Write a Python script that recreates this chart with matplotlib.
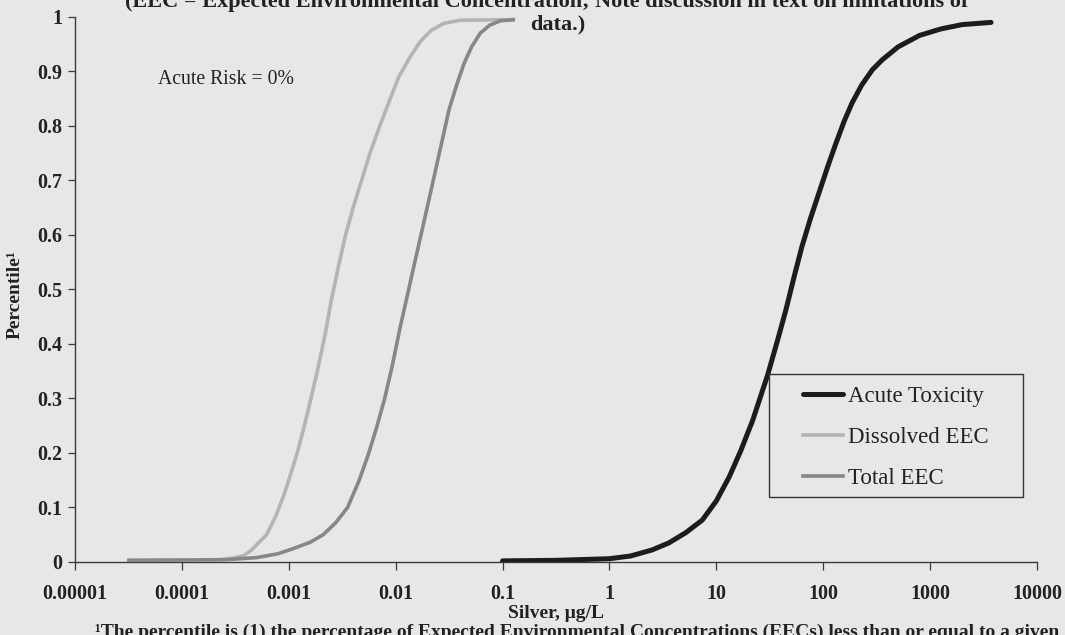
import matplotlib
matplotlib.use('Agg')
import matplotlib.pyplot as plt
from matplotlib.ticker import LogLocator, NullFormatter
from matplotlib.patches import Rectangle

plt.rcParams['font.family'] = ['Liberation Serif', 'DejaVu Serif']

# values (silver, ug/L vs percentile)
acute_x = [0.1, 0.32, 1.0, 1.58, 2.5, 3.6, 5.2, 7.4, 10, 13.2, 17, 21.9, 30.2, 37.2, 44.7, 53.7,
           63.1, 75.9, 91.2, 110, 132, 158, 186, 229, 288, 355, 501, 794, 1259, 1995, 3715]
acute_y = [0.002, 0.003, 0.006, 0.011, 0.022, 0.035, 0.054, 0.077, 0.112, 0.156, 0.205, 0.26, 0.343, 0.405, 0.462, 0.525,
           0.578, 0.63, 0.677, 0.725, 0.769, 0.81, 0.842, 0.875, 0.903, 0.921, 0.945, 0.966, 0.978, 0.986, 0.99]

diss_x = [3.2e-5, 1.6e-4, 2.5e-4, 3.2e-4, 3.8e-4, 4.5e-4, 5.2e-4, 6.2e-4, 7.6e-4, 8.9e-4, 1.0e-3, 1.2e-3, 1.4e-3,
          1.66e-3, 1.9e-3, 2.2e-3, 2.5e-3, 2.9e-3, 3.4e-3, 4.0e-3, 4.8e-3, 5.75e-3, 7.1e-3, 8.7e-3, 0.0107,
          0.0135, 0.017, 0.0214, 0.028, 0.04, 0.126]
diss_y = [0.003, 0.003, 0.005, 0.008, 0.012, 0.022, 0.035, 0.05, 0.085, 0.12, 0.15, 0.2, 0.25,
          0.31, 0.36, 0.42, 0.48, 0.54, 0.6, 0.65, 0.7, 0.75, 0.8, 0.845, 0.89,
          0.925, 0.955, 0.975, 0.988, 0.994, 0.995]

total_x = [3.2e-5, 2.5e-4, 5.0e-4, 7.9e-4, 1.12e-3, 1.58e-3, 2.1e-3, 2.75e-3, 3.55e-3, 4.5e-3, 5.5e-3, 6.6e-3,
           7.9e-3, 9.3e-3, 0.011, 0.0129, 0.0151, 0.0182, 0.0219, 0.0263, 0.0316, 0.0372, 0.0437, 0.0513,
           0.0617, 0.0759, 0.0955, 0.126]
total_y = [0.003, 0.004, 0.008, 0.015, 0.025, 0.036, 0.05, 0.072, 0.1, 0.147, 0.195, 0.245,
           0.3, 0.36, 0.43, 0.49, 0.55, 0.62, 0.69, 0.76, 0.83, 0.875, 0.915, 0.945,
           0.97, 0.985, 0.993, 0.995]

x_ticks = [1e-5, 1e-4, 1e-3, 1e-2, 1e-1, 1, 10, 100, 1000, 10000]
x_labels = ['0.00001', '0.0001', '0.001', '0.01', '0.1', '1', '10', '100', '1000', '10000']
y_ticks = [0, 0.1, 0.2, 0.3, 0.4, 0.5, 0.6, 0.7, 0.8, 0.9, 1]
y_labels = ['0', '0.1', '0.2', '0.3', '0.4', '0.5', '0.6', '0.7', '0.8', '0.9', '1']

paper = '#e7e7e5'
ink = '#222222'

fig = plt.figure(figsize=(10.65, 6.35), dpi=100, facecolor=paper)
ax = fig.add_axes([0.0704, 0.1150, 0.9033, 0.8583])
ax.set_facecolor(paper)

ax.plot(acute_x, acute_y, color='#1c1c1c', lw=3.6, label='Acute Toxicity', zorder=4, solid_capstyle='round')
ax.plot(diss_x, diss_y, color='#b4b4b4', lw=2.6, label='Dissolved EEC', zorder=3)
ax.plot(total_x, total_y, color='#878787', lw=2.6, label='Total EEC', zorder=3)

ax.set_xscale('log')
ax.set_xlim(1e-5, 1e4)
ax.set_ylim(0, 1)
ax.set_xticks(x_ticks, x_labels)
ax.xaxis.set_minor_locator(LogLocator(base=10, subs=range(2, 10)))
ax.xaxis.set_minor_formatter(NullFormatter())
ax.set_yticks(y_ticks, y_labels)

for s in ['top', 'right']:
    ax.spines[s].set_visible(False)
for s in ['left', 'bottom']:
    ax.spines[s].set_color('#3a3a3a')
    ax.spines[s].set_linewidth(1.0)

ax.tick_params(axis='x', which='major', length=6, width=0.9, pad=10, labelsize=14.5, colors='#3a3a3a', labelcolor=ink)
ax.tick_params(axis='x', which='minor', length=4, width=0.8, colors='#3a3a3a')
ax.tick_params(axis='y', length=5, width=0.9, pad=4, labelsize=14.5, colors='#3a3a3a', labelcolor=ink)
for t in ax.get_xticklabels() + ax.get_yticklabels():
    t.set_fontweight('bold')

ax.set_ylabel('Percentile¹', fontsize=14, fontweight='bold', color=ink)
ax.yaxis.set_label_coords(-0.053, 0.49)
fig.text(0.522, 1 - 613 / 635, 'Silver, μg/L', ha='center', va='center',
         fontsize=14, fontweight='bold', color=ink)

ax.text(10 ** -4.22, 0.885, 'Acute Risk = 0%', ha='left', va='center', fontsize=14.2, color=ink)

# title, clipped by the scan at the top
fig.text(0.513, 1 - 2 / 635, '(EEC = Expected Environmental Concentration; Note discussion in text on limitations of',
         ha='center', va='center', fontsize=16, fontweight='bold', color=ink)
fig.text(0.524, 1 - 24 / 635, 'data.)', ha='center', va='center', fontsize=16, fontweight='bold', color=ink)

# footnote, clipped at the bottom
fig.text(95 / 1065, 1 - 632 / 635,
         '¹The percentile is (1) the percentage of Expected Environmental Concentrations (EECs) less than or equal to a given',
         ha='left', va='center', fontsize=14, fontweight='bold', color=ink)

leg = ax.legend(loc='upper left', bbox_to_anchor=(803 / 1065, 1 - 386 / 635),
                bbox_transform=fig.transFigure, frameon=False, fontsize=16.5,
                borderpad=0, borderaxespad=0, handlelength=1.75, handletextpad=0.2,
                labelspacing=0.88)
for t in leg.get_texts():
    t.set_color(ink)

fig.add_artist(Rectangle((769 / 1065, 1 - 497 / 635), (1023 - 769) / 1065, (497 - 374) / 635,
                         transform=fig.transFigure, fill=False, ec='#333333', lw=1.0))

fig.savefig('out.png', dpi=100, facecolor=paper)
